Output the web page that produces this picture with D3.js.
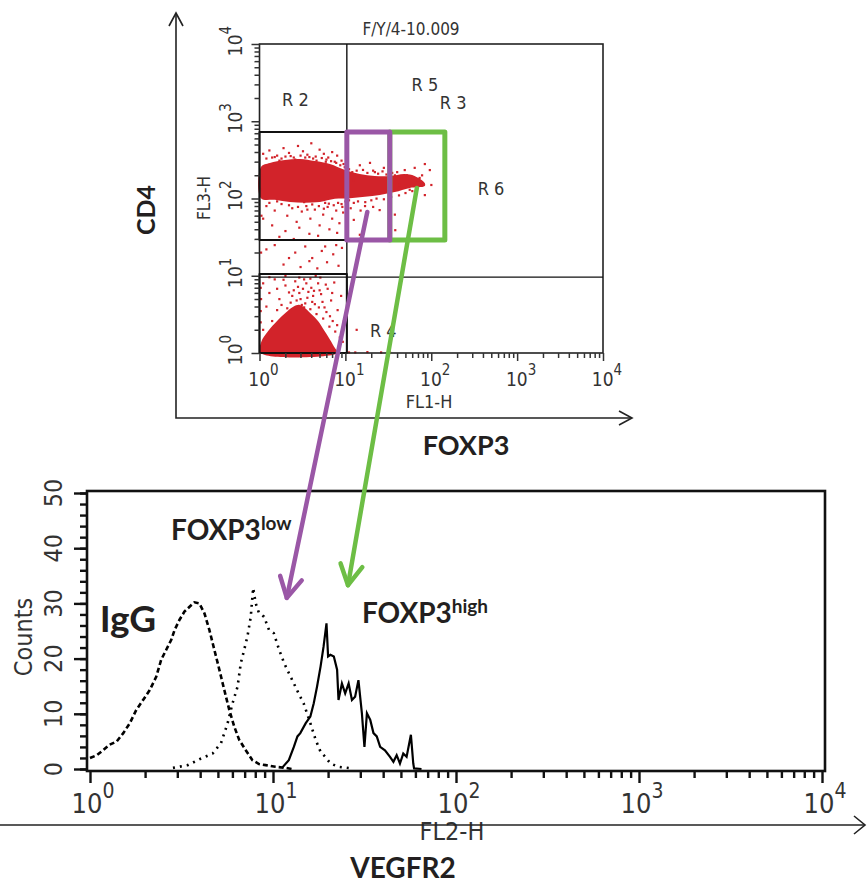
<!DOCTYPE html>
<html>
<head>
<meta charset="utf-8">
<script src="https://cdn.jsdelivr.net/npm/d3@7/dist/d3.min.js"></script>
<style>
  body { margin: 0; background: #fff; }
  svg { display: block; }
  .narrow { font-family: "Liberation Sans Narrow", "Arial Narrow", "DejaVu Sans Condensed", sans-serif; fill: #333; }
  .bold { font-family: Lato, "Open Sans", sans-serif; font-weight: 700; fill: #231f20; }
</style>
</head>
<body>
<svg width="867" height="884"></svg>
<script>
// ---------- data ----------
var decades = [1, 10, 100, 1000, 10000];
var decadeExp = ["0", "1", "2", "3", "4"];
var countTicks = [0, 10, 20, 30, 40, 50];

// dot plot (FL1-H = FOXP3, FL3-H = CD4)
var quadFL1 = 10.4, quadFL3 = 9.6;
var gateR1 = [1, 10.4, 29, 726];      // FL1 from, FL1 to, FL3 from, FL3 to
var gateR4 = [1, 10.4, 1, 10.5];
var gateLow = [10.4, 32.9, 29, 726];
var gateHigh = [32.9, 144, 29, 726];

var regionNames = ["R 2", "R 5", "R 3", "R 6", "R 4"];
var regionFL1 = [1.83, 59, 126, 347, 19.3];
var regionFL3 = [1575, 2465, 1442, 111, 1.61];

// dense cores
var upperCore = [[1.04,256],[1.32,289],[1.98,315],[2.96,325],[4.42,306],[6.6,280],[9.9,234],[14.7,208],
  [22,196],[32.9,196],[49,208],[64,196],[84,159],[84,145],[56,137],[37.6,121],[25.2,111],[16.9,105],
  [11.3,101],[7.55,99],[5.05,90],[3.38,88],[2.26,90],[1.51,96],[1.04,101]];
var lowerCore = [[1.03,1],[1.05,1.4],[1.25,1.9],[1.6,2.6],[2.0,3.3],[2.5,4.0],[2.9,4.2],[3.4,3.8],
  [4.0,3.2],[4.8,2.6],[5.6,2.0],[6.6,1.5],[7.6,1.15],[8.2,1]];

// scattered events
var scatterDots = [
  [1.1,380],[1.3,420],[1.6,360],[1.9,450],[2.2,390],[2.5,340],[2.8,480],[3.2,410],[3.6,370],[4.0,520],
  [4.5,350],[5.0,430],[5.6,380],[6.3,340],[7.0,400],[8.0,360],[9.0,310],[1.4,340],[2.0,350],[3.0,360],
  [4.2,330],[6.0,320],[7.5,300],[9.5,280],[1.8,330],
  [1.2,330],[1.5,345],[1.7,310],[2.3,355],[2.6,320],[3.4,340],[3.8,345],[4.6,310],[5.3,335],[5.9,300],
  [6.8,305],[7.8,290],[8.7,270],[9.8,255],
  [1.3,88],[1.6,92],[2.2,82],[2.8,78],[3.6,72],[4.1,84],[4.9,80],[5.6,74],[6.4,86],[7.3,82],[8.2,88],
  [9.2,78],[10,92],
  [1.2,80],[1.5,70],[1.8,85],[2.1,60],[2.4,75],[2.7,50],[3.1,68],[3.5,80],[3.9,55],[4.4,72],[5.0,45],
  [5.5,62],[6.2,78],[7.0,55],[7.8,70],[8.5,48],[9.4,66],[1.4,45],[2.0,38],[2.9,42],[3.8,35],[4.8,33],
  [6.5,40],[1.7,32],[2.5,30],[8.0,36],[1.1,55],[3.3,90],[5.8,88],[9.0,85],
  [1.2,22],[1.9,14],[2.6,20],[3.0,13],[3.4,24],[4.1,17],[4.7,12.5],[5.3,21],[6.1,15],[7.2,19],
  [8.3,13.5],[9.1,23],[2.2,17],[1.5,25],[5.8,24],[3.8,15.5],[7.8,25],
  [1.1,8],[1.3,6],[1.5,9],[1.7,5],[2.0,7.5],[2.3,4.5],[2.6,8.5],[2.9,6],[3.3,9],[3.6,5.2],[4.0,7],
  [4.4,4.3],[4.8,8],[5.2,5.8],[5.7,3.9],[6.2,6.8],[6.8,4.8],[7.4,8.2],[8.1,3.6],[8.9,5.5],[9.6,2.6],
  [1.2,4],[1.6,3.6],[2.1,3.8],[3.1,4.2],[3.9,3.7],[4.6,3.2],[5.5,2.8],[6.5,2.2],[7.6,1.9],[8.6,1.6],
  [9.3,1.4],[1.4,2.6],[1.9,8.9],[2.8,7.2],[3.5,8],[4.2,5.5],[5.0,6.5],[5.9,7.7],[7.0,6],[1.1,2.0],
  [1.8,4.2],[2.4,5.5],[2.5,6.5],[2.7,4.8],[3.0,5],[3.2,6.8],[3.4,4.4],[3.7,6.2],[4.1,4.6],[4.3,6.4],
  [2.9,9.5],[3.9,9.2],[2.2,6.1],[1.6,6.8],[5.4,4.6],[6.0,3.4],[4.9,3.9],[3.3,3.9],[2.6,3.8],[6.6,3.0],
  [7.1,2.6],[8.0,2.3],[5.1,9.5],[4.5,10],[2.0,10],[1.3,9.6],
  [1.15,1.5],[1.03,2.5],[1.03,3.5],[1.04,5],[1.03,7],[1.04,20],[1.05,60],[1.03,130],[1.04,200],
  [11,240],[12,220],[13.5,230],[16,235],[18,215],[21,230],[24,210],[27,225],[30,205],[35,215],[40,220],
  [45,190],[52,200],[60,180],[70,170],[78,200],
  [11,95],[12.5,88],[14,92],[17,90],[20,95],[23,100],[28,98],[34,105],[42,110],[50,118],[60,125],
  [11.5,75],[15,70],[21,78],
  [14.7,270],[19.3,290],[12.5,174],[22,220],[28,250],[37.6,200],[49,234],[64,250],[84,280],[96,234],
  [73,185],[43,150],[56,130],[16.9,80],[25,71],[37.6,62],[12.5,53],[38,39],[14.7,34],[84,111],[100,150],
  [11,1.02],[13,1.02],[18,1.03],[26,1.02],[33,1.02],[13.5,2.0]
];

// histogram (FL2-H = VEGFR2, counts)
var igG = [[1,2.0],[1.09,2.5],[1.18,3.4],[1.28,4.4],[1.4,5],[1.52,6.5],[1.65,8.3],[1.79,10.7],[1.95,12.5],
  [2.12,14.3],[2.3,16.7],[2.45,19.8],[2.61,21.6],[2.78,23.4],[2.9,25.2],[3.08,27],[3.28,28.5],[3.5,29.4],
  [3.72,30.2],[3.96,30],[4.22,28.2],[4.49,25.2],[4.78,21.6],[5.09,18],[5.42,14.3],[5.77,10.7],[6.14,7.7],
  [6.53,5.3],[7.1,3.4],[7.72,1.6],[8.39,0.9],[9.12,0.7],[10.3,0.4],[11.7,0.2],[12.7,0]];
var foxp3Low = [[2.84,0.2],[3.42,0.7],[4.04,1.9],[4.68,2.8],[5.2,4.7],[5.65,8.3],[6.01,11.9],[6.4,14.9],
  [6.67,19.2],[6.96,21.6],[7.25,24],[7.56,27.6],[7.79,32.8],[8.05,30],[8.39,28.2],[8.93,27.6],[9.51,25.2],
  [10.1,24.6],[10.8,21.6],[11.5,19.2],[12.2,17.4],[13,15.5],[13.8,13.7],[14.7,11.9],[16,8.3],[17.1,5.3],
  [18.2,3.1],[19.3,2.2],[20.6,1],[22.8,0.4],[27,0.1]];
var foxp3High = [[11.2,0.2],[12.2,1.6],[13,4],[13.6,5.9],[14.1,6.5],[15.1,8.3],[16,9.5],[16.7,11.9],
  [17.4,14.9],[18.2,18.6],[18.9,22.2],[19.6,26.4],[20,20.4],[20.6,20.7],[21.5,20.4],[22.4,18],[22.8,12.5],
  [23.8,15.5],[24.8,13.7],[25.9,15.5],[27,12.5],[28.1,13.1],[29.3,16.1],[30.6,10.1],[31.6,4],[32.6,10.1],
  [34,8.9],[35.4,6.5],[36.9,5.9],[38.5,4],[40.9,3.4],[43.6,2.2],[45.5,1.3],[47.4,2.5],[49.4,1],[51.5,2.8],
  [53.7,2.2],[56.7,6.2],[58.4,1],[59,0.1],[64.8,0]];

// gate-to-histogram arrows: [FL1, FL3] in dot plot -> [FL2, count] in histogram
var arrowNames = ["low", "high"];
var arrowColors = ["#9a57a6", "#6dbe45"];
var arrowFrom = [[18, 67], [68, 137]];
var arrowTo = [[11.9, 31], [25.7, 33.3]];

// ---------- drawing ----------
var svg = d3.select("svg");
svg.append("rect").attr("width", 867).attr("height", 884).attr("fill", "#fff");

var fx = d3.scaleLog().domain([1, 1e4]).range([259.5, 603]);
var fy = d3.scaleLog().domain([1, 1e4]).range([353, 44]);
var hx = d3.scaleLog().domain([1, 1e4]).range([90, 822]);
var hy = d3.scaleLinear().domain([0, 50]).range([769, 493]);

var minor = [];
decades.slice(0, 4).forEach(function(d) {
  for (var k = 2; k < 10; k++) minor.push(d * k);
});

var red = "#d2232a";

function supLabel(g, exp, size, expSize, rise) {
  var t = g.append("text").attr("class", "narrow").attr("text-anchor", "middle")
    .attr("font-size", size);
  t.append("tspan").text("10");
  t.append("tspan").attr("dy", -rise).attr("font-size", expSize).text(exp);
  return t;
}

function gateRect(g, gate, stroke, width) {
  return g.append("rect")
    .attr("x", fx(gate[0])).attr("y", fy(gate[3]))
    .attr("width", fx(gate[1]) - fx(gate[0]))
    .attr("height", fy(gate[2]) - fy(gate[3]))
    .attr("fill", "none").attr("stroke", stroke).attr("stroke-width", width)
    .attr("stroke-linejoin", "round");
}

// ---- dot plot ----
var dot = svg.append("g").attr("class", "dotplot");

var coreLine = d3.line().x(function(d) { return fx(d[0]); }).y(function(d) { return fy(d[1]); })
  .curve(d3.curveCatmullRomClosed);
dot.selectAll("path.core").data([upperCore, lowerCore]).enter().append("path")
  .attr("class", "core").attr("d", coreLine).attr("fill", red);

dot.selectAll("rect.ev").data(scatterDots).enter().append("rect")
  .attr("class", "ev")
  .attr("x", function(d) { return fx(d[0]) - 1; })
  .attr("y", function(d) { return fy(d[1]) - 1; })
  .attr("width", 2.2).attr("height", 2.2).attr("fill", red);

dot.append("rect").attr("x", fx(1)).attr("y", fy(1e4))
  .attr("width", fx(1e4) - fx(1)).attr("height", fy(1) - fy(1e4))
  .attr("fill", "none").attr("stroke", "#222").attr("stroke-width", 1.6);

dot.append("line").attr("x1", fx(quadFL1)).attr("x2", fx(quadFL1))
  .attr("y1", fy(1e4)).attr("y2", fy(1)).attr("stroke", "#111").attr("stroke-width", 1.4);
dot.append("line").attr("x1", fx(1)).attr("x2", fx(1e4))
  .attr("y1", fy(quadFL3)).attr("y2", fy(quadFL3)).attr("stroke", "#111").attr("stroke-width", 1.4);

gateRect(dot, gateR1, "#111", 2);
gateRect(dot, gateR4, "#111", 2);
gateRect(dot, gateHigh, arrowColors[1], 5);
gateRect(dot, gateLow, arrowColors[0], 5);

// ticks
function tickAxis(g, axis) {
  g.call(axis);
  g.select(".domain").remove();
  g.selectAll("line").attr("stroke", "#333").attr("stroke-width", 1.5);
}
tickAxis(dot.append("g").attr("transform", "translate(0," + fy(1) + ")"),
  d3.axisBottom(fx).tickValues(minor).tickSize(5).tickFormat(""));
tickAxis(dot.append("g").attr("transform", "translate(0," + fy(1) + ")"),
  d3.axisBottom(fx).tickValues(decades).tickSize(8).tickFormat(""));
tickAxis(dot.append("g").attr("transform", "translate(" + fx(1) + ",0)"),
  d3.axisLeft(fy).tickValues(minor).tickSize(5).tickFormat(""));
tickAxis(dot.append("g").attr("transform", "translate(" + fx(1) + ",0)"),
  d3.axisLeft(fy).tickValues(decades).tickSize(8).tickFormat(""));

decades.forEach(function(d, i) {
  var g = dot.append("g").attr("transform", "translate(" + (fx(d) + 4) + ",386)");
  supLabel(g, decadeExp[i], 19, 15, 11);
  var gy = dot.append("g").attr("transform", "translate(242," + (fy(d) - 3) + ") rotate(-90)");
  supLabel(gy, decadeExp[i], 19, 15, 11);
});

dot.append("text").attr("class", "narrow").attr("x", 429).attr("y", 408)
  .attr("text-anchor", "middle").attr("font-size", 18).text("FL1-H");
dot.append("text").attr("class", "narrow")
  .attr("transform", "translate(210,198) rotate(-90)")
  .attr("text-anchor", "middle").attr("font-size", 17).text("FL3-H");
dot.append("text").attr("class", "narrow").attr("x", 411).attr("y", 35)
  .attr("text-anchor", "middle").attr("font-size", 17).text("F/Y/4-10.009");

dot.selectAll("text.region").data(regionNames).enter().append("text")
  .attr("class", "narrow region")
  .attr("x", function(d, i) { return fx(regionFL1[i]); })
  .attr("y", function(d, i) { return fy(regionFL3[i]); })
  .attr("font-size", 18).text(function(d) { return d; });

// outer axes of the dot plot
var arrowAxes = svg.append("g").attr("fill", "none").attr("stroke", "#222").attr("stroke-width", 1.6);
arrowAxes.append("path").attr("d", "M176,13 L176,418 L632,418");
arrowAxes.append("path").attr("d", "M169,26 L176,13 L183,26");
arrowAxes.append("path").attr("d", "M619,411 L632,418 L619,425");

svg.append("text").attr("class", "bold").attr("font-size", 25)
  .attr("transform", "translate(155,210) rotate(-90)").attr("text-anchor", "middle").text("CD4");
svg.append("text").attr("class", "bold").attr("font-size", 27)
  .attr("x", 466).attr("y", 455).attr("text-anchor", "middle").text("FOXP3");

// ---- histogram ----
var hist = svg.append("g").attr("class", "histogram");

var histLine = d3.line().x(function(d) { return hx(d[0]); }).y(function(d) { return hy(d[1]); });
hist.append("path").datum(igG).attr("d", histLine).attr("fill", "none")
  .attr("stroke", "#000").attr("stroke-width", 2.6).attr("stroke-dasharray", "5,3");
hist.append("path").datum(foxp3Low).attr("d", histLine).attr("fill", "none")
  .attr("stroke", "#000").attr("stroke-width", 2.6).attr("stroke-dasharray", "2,5");
hist.append("path").datum(foxp3High).attr("d", histLine).attr("fill", "none")
  .attr("stroke", "#000").attr("stroke-width", 2.2);

hist.append("rect").attr("x", 87).attr("y", 491).attr("width", 738).attr("height", 280)
  .attr("fill", "none").attr("stroke", "#111").attr("stroke-width", 2.6);

function histTicks(g, axis) {
  g.call(axis);
  g.select(".domain").remove();
  g.selectAll("line").attr("stroke", "#111").attr("stroke-width", 2.4);
}
histTicks(hist.append("g").attr("transform", "translate(0,772)"),
  d3.axisBottom(hx).tickValues(minor).tickSize(6).tickFormat(""));
histTicks(hist.append("g").attr("transform", "translate(0,772)"),
  d3.axisBottom(hx).tickValues(decades).tickSize(11).tickFormat(""));
histTicks(hist.append("g").attr("transform", "translate(87,0)"),
  d3.axisLeft(hy).tickValues(d3.range(0, 51, 2)).tickSize(7).tickFormat(""));
histTicks(hist.append("g").attr("transform", "translate(87,0)"),
  d3.axisLeft(hy).tickValues(countTicks).tickSize(13).tickFormat(""));

decades.forEach(function(d, i) {
  var g = hist.append("g").attr("transform", "translate(" + (hx(d) + 3) + ",813)");
  supLabel(g, decadeExp[i], 27, 21, 15);
});
countTicks.forEach(function(c) {
  hist.append("text").attr("class", "narrow").attr("font-size", 25).attr("text-anchor", "middle")
    .attr("transform", "translate(62," + hy(c) + ") rotate(-90)").text(c);
});
hist.append("text").attr("class", "narrow").attr("font-size", 25).attr("text-anchor", "middle")
  .attr("transform", "translate(32,637) rotate(-90)").text("Counts");
hist.append("text").attr("class", "narrow").attr("font-size", 25).attr("text-anchor", "middle")
  .attr("x", 452).attr("y", 840).text("FL2-H");

var hAxis = svg.append("g").attr("fill", "none").attr("stroke", "#222").attr("stroke-width", 1.6);
hAxis.append("path").attr("d", "M0,825 L864,825");
hAxis.append("path").attr("d", "M854,816 L865,825 L854,834");

svg.append("text").attr("class", "bold").attr("font-size", 28)
  .attr("x", 403).attr("y", 878).attr("text-anchor", "middle").text("VEGFR2");

function seriesLabel(v, c, main, sup, size) {
  var t = hist.append("text").attr("class", "bold").attr("x", hx(v)).attr("y", hy(c))
    .attr("font-size", size);
  t.append("tspan").text(main);
  if (sup) t.append("tspan").attr("dy", -10).attr("font-size", 19).text(sup);
}
seriesLabel(2.77, 41.5, "FOXP3", "low", 28);
seriesLabel(30.6, 26.4, "FOXP3", "high", 28);
seriesLabel(1.13, 24.8, "IgG", null, 37);

// ---- arrows from gates to histograms ----
var arrows = svg.append("g").attr("fill", "none").attr("stroke-width", 4.5)
  .attr("stroke-linecap", "round").attr("stroke-linejoin", "round");
arrowNames.forEach(function(name, i) {
  var x0 = fx(arrowFrom[i][0]), y0 = fy(arrowFrom[i][1]);
  var x1 = hx(arrowTo[i][0]), y1 = hy(arrowTo[i][1]);
  var a = Math.atan2(y0 - y1, x0 - x1), len = 23, spread = 0.5;
  arrows.append("path").attr("stroke", arrowColors[i])
    .attr("d", "M" + x0 + "," + y0 + " L" + x1 + "," + y1);
  arrows.append("path").attr("stroke", arrowColors[i])
    .attr("d", "M" + (x1 + len * Math.cos(a + spread)) + "," + (y1 + len * Math.sin(a + spread)) +
      " L" + x1 + "," + y1 +
      " L" + (x1 + len * Math.cos(a - spread)) + "," + (y1 + len * Math.sin(a - spread)));
});
</script>
</body>
</html>
